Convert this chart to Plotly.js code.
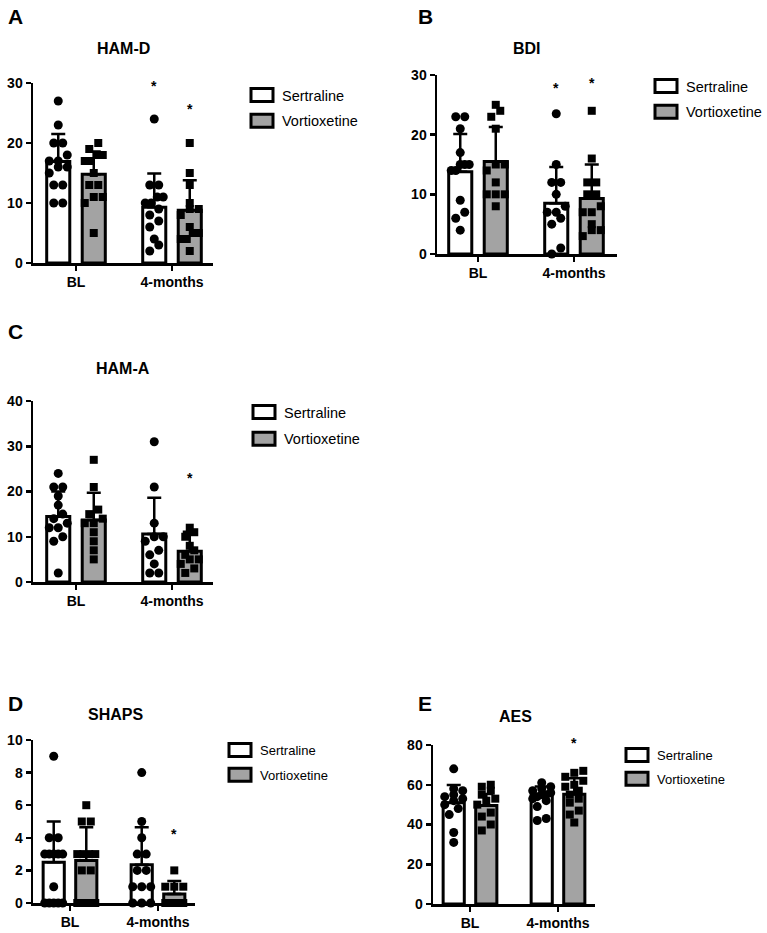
<!DOCTYPE html>
<html>
<head>
<meta charset="utf-8">
<script src="https://cdn.plot.ly/plotly-3.0.1.min.js"></script>
<style>
  html, body { margin: 0; padding: 0; background: #ffffff; }
  #chart { width: 767px; height: 933px; }
</style>
</head>
<body>
<div id="chart"></div>
<script>
// Time points on the x axis
const groups = ['BL', '4-months'];
const seriesNames = ['Sertraline', 'Vortioxetine'];

// HAM-D: group means, SD (drawn upward) and individual scores
const hamdSertMean = [16.9, 9.3];
const hamdSertSd = [4.6, 5.6];
const hamdVortMean = [14.8, 8.8];
const hamdVortSd = [3.8, 5.0];
const hamdSertBL = [27, 23, 20, 20, 18, 17, 17, 16, 16, 15, 13, 13, 10, 10];
const hamdSertM4 = [24, 13, 13, 11, 11, 10, 10, 9, 8, 7, 6, 4, 3, 2];
const hamdVortBL = [20, 19, 18, 18, 17, 17, 15, 13, 13, 11, 11, 10, 5];
const hamdVortM4 = [20, 15, 13, 10, 9, 9, 8, 6, 5, 5, 4, 4, 2];
const hamdStarSert = [null, 29.7];
const hamdStarVort = [null, 25.8];

// BDI
const bdiSertMean = [13.8, 8.5];
const bdiSertSd = [6.3, 6.1];
const bdiVortMean = [15.5, 9.3];
const bdiVortSd = [5.8, 5.7];
const bdiSertBL = [23, 23, 21, 17, 15, 15, 15, 14, 14, 9, 7, 6, 4];
const bdiSertM4 = [23.5, 15, 12, 12, 10, 8, 7, 7, 6, 5, 1, 0];
const bdiVortBL = [25, 24, 23, 21, 15, 15, 14, 12, 10, 10, 10, 8];
const bdiVortM4 = [24, 16, 12, 12, 10, 10, 8, 7, 7, 5, 4, 4, 3];
const bdiStarSert = [null, 28.0];
const bdiStarVort = [null, 28.9];

// HAM-A
const hamaSertMean = [14.5, 10.6];
const hamaSertSd = [5.5, 8.0];
const hamaVortMean = [13.7, 6.8];
const hamaVortSd = [6.0, 4.3];
const hamaSertBL = [24, 21, 21, 19, 17, 15, 14, 13, 12, 12, 10, 9, 2];
const hamaSertM4 = [31, 21, 13, 10, 10, 9, 7, 6, 4, 2, 2];
const hamaVortBL = [27, 21, 16, 15, 14, 13, 13, 11, 9, 7, 5];
const hamaVortM4 = [12, 11, 10, 8, 7, 6, 5, 5, 4, 3, 2];
const hamaStarSert = [null, null];
const hamaStarVort = [null, 23.2];

// SHAPS
const shapsSertMean = [2.5, 2.35];
const shapsSertSd = [2.5, 2.3];
const shapsVortMean = [2.6, 0.55];
const shapsVortSd = [2.05, 0.8];
const shapsSertBL = [9, 4, 4, 3, 3, 3, 3, 3, 1, 0, 0, 0, 0, 0];
const shapsSertM4 = [8, 5, 4, 3, 3, 2, 2, 1, 1, 1, 0, 0, 0];
const shapsVortBL = [6, 5, 5, 3, 3, 3, 3, 2, 2, 0, 0, 0, 0];
const shapsVortM4 = [2, 1, 1, 1, 0, 0, 0, 0, 0, 0, 0, 0];
const shapsStarSert = [null, null];
const shapsStarVort = [null, 4.3];

// AES
const aesSertMean = [51.0, 54.9];
const aesSertSd = [8.9, 4.2];
const aesVortMean = [49.5, 55.2];
const aesVortSd = [5.8, 8.1];
const aesSertBL = [68, 58, 57, 55, 54, 53, 52, 50, 48, 45, 36, 31];
const aesSertM4 = [61, 59, 58, 57, 56, 55, 55, 54, 53, 52, 49, 43, 42];
const aesVortBL = [60, 59, 57, 55, 53, 52, 50, 46, 44, 40, 37];
const aesVortM4 = [67, 66, 64, 62, 60, 59, 57, 55, 53, 51, 47, 45, 41];
const aesStarSert = [null, null];
const aesStarVort = [null, 81.7];

const W = 767, H = 933;
const FONT = 'Liberation Sans, Arial, Helvetica, sans-serif';
const GREY = '#a3a3a3';
const OFFSET = 0.185;   // half distance between the two bars of a group

// Panel placement in pixels: [left, right] of the x axis, [bottom, top] of the y axis
const panels = [
  { letter: 'A', title: 'HAM-D', yMax: 30, dtick: 10, px: [33, 213], py: [263, 83], tick0px: 76, tickStep: 96,
    sMean: hamdSertMean, sSd: hamdSertSd, vMean: hamdVortMean, vSd: hamdVortSd,
    sPts: [hamdSertBL, hamdSertM4], vPts: [hamdVortBL, hamdVortM4], sStar: hamdStarSert, vStar: hamdStarVort,
    letterPos: [6, 16], titlePos: [123, 49], legendPos: [242, 79], legendFont: 14.5, legendGap: 4 },
  { letter: 'B', title: 'BDI', yMax: 30, dtick: 10, px: [437, 617], py: [254, 75], tick0px: 478, tickStep: 96,
    sMean: bdiSertMean, sSd: bdiSertSd, vMean: bdiVortMean, vSd: bdiVortSd,
    sPts: [bdiSertBL, bdiSertM4], vPts: [bdiVortBL, bdiVortM4], sStar: bdiStarSert, vStar: bdiStarVort,
    letterPos: [416, 16], titlePos: [527, 49], legendPos: [646, 70], legendFont: 14.5, legendGap: 4 },
  { letter: 'C', title: 'HAM-A', yMax: 40, dtick: 10, px: [33, 213], py: [582, 401], tick0px: 76, tickStep: 96,
    sMean: hamaSertMean, sSd: hamaSertSd, vMean: hamaVortMean, vSd: hamaVortSd,
    sPts: [hamaSertBL, hamaSertM4], vPts: [hamaVortBL, hamaVortM4], sStar: hamaStarSert, vStar: hamaStarVort,
    letterPos: [6, 332], titlePos: [123, 368], legendPos: [244, 396], legendFont: 14.5, legendGap: 5 },
  { letter: 'D', title: 'SHAPS', yMax: 10, dtick: 2, px: [33, 195], py: [903, 740], tick0px: 70, tickStep: 88,
    sMean: shapsSertMean, sSd: shapsSertSd, vMean: shapsVortMean, vSd: shapsVortSd,
    sPts: [shapsSertBL, shapsSertM4], vPts: [shapsVortBL, shapsVortM4], sStar: shapsStarSert, vStar: shapsStarVort,
    letterPos: [6, 703], titlePos: [115, 714], legendPos: [220, 735], legendFont: 13, legendGap: 5 },
  { letter: 'E', title: 'AES', yMax: 80, dtick: 20, px: [433, 595], py: [904, 745], tick0px: 470, tickStep: 88,
    sMean: aesSertMean, sSd: aesSertSd, vMean: aesVortMean, vSd: aesVortSd,
    sPts: [aesSertBL, aesSertM4], vPts: [aesVortBL, aesVortM4], sStar: aesStarSert, vStar: aesStarVort,
    letterPos: [416, 703], titlePos: [515, 716], legendPos: [617, 740], legendFont: 13, legendGap: 4 }
];

// Horizontal spread of points sharing (nearly) the same value, like a scatter dot plot
function spread(vals, yPerPx, xPerPx, halfWidthPx) {
  const order = vals.map((v, i) => i).sort((a, b) => vals[a] - vals[b]);
  const out = new Array(vals.length).fill(0);
  const thr = 6.5 * yPerPx;
  let i = 0;
  while (i < order.length) {
    let j = i + 1;
    while (j < order.length && vals[order[j]] - vals[order[i]] < thr) j++;
    const n = j - i;
    const step = n > 1 ? Math.min(9, (2 * halfWidthPx) / (n - 1)) : 0;
    for (let k = 0; k < n; k++) out[order[i + k]] = (k - (n - 1) / 2) * step * xPerPx;
    i = j;
  }
  return out;
}

const traces = [];
const layout = {
  width: W, height: H,
  margin: { l: 0, r: 0, t: 0, b: 0 },
  paper_bgcolor: '#ffffff', plot_bgcolor: 'rgba(0,0,0,0)',
  barmode: 'group', bargap: 0.26, bargroupgap: 0.35,
  font: { family: FONT, color: '#000000' },
  annotations: [], showlegend: true
};

panels.forEach((p, n) => {
  const sfx = n === 0 ? '' : String(n + 1);
  const xa = 'x' + sfx, ya = 'y' + sfx;
  const legendId = 'legend' + sfx;
  const wPx = p.px[1] - p.px[0], hPx = p.py[0] - p.py[1];
  const xStart = -(p.tick0px - p.px[0]) / p.tickStep;
  const xRange = [xStart, xStart + wPx / p.tickStep];
  const xPerPx = 1 / p.tickStep, yPerPx = p.yMax / hPx;

  layout['xaxis' + sfx] = {
    domain: [p.px[0] / W, p.px[1] / W], anchor: ya, range: xRange, fixedrange: true,
    tickvals: [0, 1], ticktext: groups, showgrid: false, zeroline: false,
    showline: true, linecolor: '#000000', linewidth: 2.5,
    ticks: 'outside', ticklen: 5, tickwidth: 2.5, tickcolor: '#000000',
    tickfont: { family: FONT, size: 14, weight: 'bold', color: '#000000' }
  };
  layout['yaxis' + sfx] = {
    domain: [1 - p.py[0] / H, 1 - p.py[1] / H], anchor: xa, range: [0, p.yMax], fixedrange: true,
    dtick: p.dtick, showgrid: false, zeroline: false,
    showline: true, linecolor: '#000000', linewidth: 2.5,
    ticks: 'outside', ticklen: 5, tickwidth: 2.5, tickcolor: '#000000',
    tickfont: { family: FONT, size: 14, weight: 'bold', color: '#000000' }
  };
  layout[legendId] = {
    x: p.legendPos[0] / W, y: 1 - p.legendPos[1] / H, xanchor: 'left', yanchor: 'top',
    bgcolor: 'rgba(0,0,0,0)', borderwidth: 0, traceorder: 'grouped', tracegroupgap: p.legendGap,
    font: { family: FONT, size: p.legendFont, color: '#000000' }, itemwidth: 30
  };

  const series = [
    { name: seriesNames[0], mean: p.sMean, sd: p.sSd, pts: p.sPts, star: p.sStar, fill: '#ffffff', symbol: 'circle', size: 9, side: -1 },
    { name: seriesNames[1], mean: p.vMean, sd: p.vSd, pts: p.vPts, star: p.vStar, fill: GREY, symbol: 'square', size: 8, side: 1 }
  ];

  // Bars with upward SD whiskers
  series.forEach((s, k) => {
    traces.push({
      type: 'bar', x: [0, 1], y: s.mean, xaxis: xa, yaxis: ya, name: s.name,
      legend: legendId, legendgroup: p.letter + k, showlegend: true,
      marker: { color: s.fill, line: { color: '#000000', width: 3 } },
      error_y: { type: 'data', symmetric: false, array: s.sd, arrayminus: [0, 0],
                 color: '#000000', thickness: 2.5, width: 7 },
      hoverinfo: 'skip'
    });
  });

  // Individual scores
  series.forEach((s) => {
    const xs = [], ys = [];
    s.pts.forEach((vals, g) => {
      const off = spread(vals, yPerPx, xPerPx, 9);
      vals.forEach((v, i) => { xs.push(g + s.side * OFFSET + off[i]); ys.push(v); });
    });
    traces.push({
      type: 'scatter', mode: 'markers', x: xs, y: ys, xaxis: xa, yaxis: ya,
      showlegend: false, cliponaxis: false, hoverinfo: 'skip',
      marker: { symbol: s.symbol, size: s.size, color: '#000000', line: { width: 0 } }
    });
  });

  // Significance marks; a mark above the axis top is pinned to the top and shifted up by the excess
  series.forEach((s) => s.star.forEach((v, g) => {
    if (v === null) return;
    const inside = Math.min(v, p.yMax);
    const extraPx = (v - inside) / yPerPx;
    layout.annotations.push({
      xref: xa, yref: ya, x: g + s.side * OFFSET, y: inside, text: '*', showarrow: false,
      xanchor: 'center', yanchor: 'middle', yshift: extraPx - 1,
      font: { family: FONT, size: 14, weight: 'bold', color: '#000000' }
    });
  }));

  layout.annotations.push({
    xref: 'paper', yref: 'paper', x: p.titlePos[0] / W, y: 1 - p.titlePos[1] / H,
    xanchor: 'center', yanchor: 'middle', showarrow: false, text: p.title,
    font: { family: FONT, size: 16, weight: 'bold', color: '#000000' }
  });
  layout.annotations.push({
    xref: 'paper', yref: 'paper', x: p.letterPos[0] / W, y: 1 - p.letterPos[1] / H,
    xanchor: 'left', yanchor: 'middle', showarrow: false, text: p.letter,
    font: { family: FONT, size: 21, weight: 'bold', color: '#000000' }
  });
});

Plotly.newPlot('chart', traces, layout, { staticPlot: true, displayModeBar: false }).then((gd) => {
  // Wider, flatter legend swatches in every legend box
  gd.querySelectorAll('.legendpoints path').forEach((el) => el.setAttribute('d', 'M11,6.5H-11V-6.5H11Z'));
});
</script>
</body>
</html>
